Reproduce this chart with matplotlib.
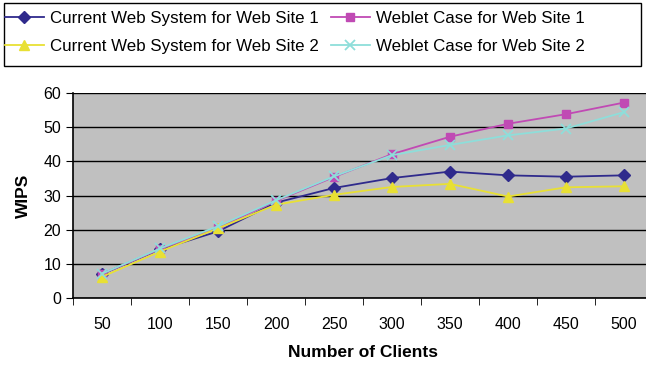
import matplotlib.pyplot as plt
from matplotlib.patches import Rectangle
import numpy as np

plt.rcParams['font.family'] = ['Liberation Sans', 'DejaVu Sans']

clients = ['50', '100', '150', '200', '250', '300', '350', '400', '450', '500']
current_site1 = [7.0, 14.2, 19.5, 27.9, 32.2, 35.1, 37.0, 35.9, 35.5, 35.9]
weblet_site1 = [7.0, 14.3, 20.6, 28.4, 35.4, 42.1, 47.2, 51.0, 53.8, 57.2]
current_site2 = [6.2, 13.6, 20.4, 27.3, 30.2, 32.5, 33.4, 29.7, 32.4, 32.7]
weblet_site2 = [7.1, 14.5, 21.0, 28.6, 35.6, 41.8, 44.8, 47.6, 49.6, 54.4]

colors = ['#2F2A8C', '#C04AB4', '#E8E034', '#8EDEDA']

fig = plt.figure(figsize=(6.46, 3.65), dpi=100)
ax = fig.add_axes([73/646, 67/365, 580/646, 205/365])
ax.set_facecolor('#C0C0C0')

x = np.arange(len(clients))
l1, = ax.plot(x, current_site1, color=colors[0], marker='D', markersize=6, lw=1.3,
              label='Current Web System for Web Site 1', zorder=3)
l2, = ax.plot(x, weblet_site1, color=colors[1], marker='s', markersize=6, lw=1.3,
              label='Weblet Case for Web Site 1', zorder=3)
l3, = ax.plot(x, current_site2, color=colors[2], marker='^', markersize=7, lw=1.3,
              label='Current Web System for Web Site 2', zorder=3)
l4, = ax.plot(x, weblet_site2, color=colors[3], marker='x', markersize=7, lw=1.3,
              mew=1.3, label='Weblet Case for Web Site 2', zorder=3)

ax.set_xlim(-0.5, len(clients) - 0.5)
ax.set_ylim(0, 60)
ax.set_yticks(np.arange(0, 61, 10))
ax.yaxis.grid(True, color='black', lw=1.0)
ax.set_axisbelow(True)
ax.set_xticks(x)
ax.set_xticklabels(clients)
ax.set_xticks(np.arange(-0.5, len(clients)), minor=True)
ax.tick_params(axis='x', which='major', length=0, pad=14, labelsize=11.5)
ax.tick_params(axis='x', which='minor', length=5, direction='out')
ax.tick_params(axis='y', length=5, direction='out', labelsize=11.5)
for s in ['top', 'right']:
    ax.spines[s].set_visible(False)
ax.spines['left'].set_linewidth(1.2)
ax.spines['bottom'].set_linewidth(1.2)

ax.set_xlabel('Number of Clients', fontweight='bold', fontsize=12.5, labelpad=9)
ax.set_ylabel('WIPS', fontweight='bold', fontsize=12.5, labelpad=9)

# legend box is wider than its contents, so draw the frame separately
fig.patches.append(Rectangle((4/646, 1 - 66/365), 637/646, 63/365, transform=fig.transFigure,
                             fill=False, edgecolor='black', lw=1.0))
fig.legend(handles=[l1, l3, l2, l4], ncol=2, loc='upper left',
           bbox_to_anchor=(5/646, 1 - 11/365), frameon=False, fontsize=12.2,
           handlelength=2.3, handletextpad=0.35, columnspacing=0.7,
           borderpad=0, labelspacing=0.75, borderaxespad=0)

fig.savefig('out.png', dpi=100)
